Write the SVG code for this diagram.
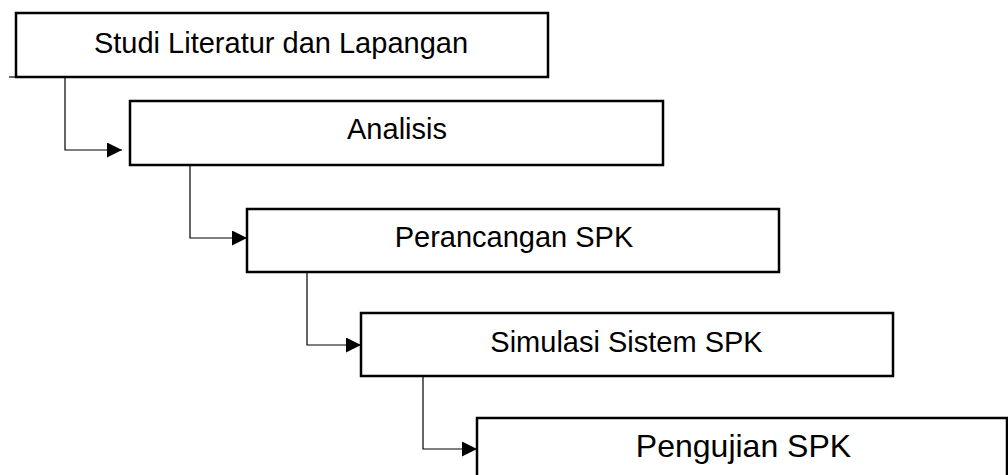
<svg xmlns="http://www.w3.org/2000/svg" width="1008" height="475" viewBox="0 0 1008 475">
<style>
.box{fill:#fff;stroke:#000;stroke-width:2.5}
.lbl{font-family:"Liberation Sans",Arial,sans-serif;font-size:29px;fill:#000;text-anchor:middle}
.con{fill:none;stroke:#000;stroke-width:1.2}
</style>
<defs>
<marker id="arr" viewBox="0 0 15 15" refX="15" refY="7.5" markerWidth="15" markerHeight="15" markerUnits="userSpaceOnUse" orient="auto">
<path d="M0,0 L15,7.5 L0,15 z" fill="#000"/>
</marker>
</defs>
<rect width="1008" height="475" fill="#fff"/>
<g id="connectors">
<path class="con" d="M9,77 H16"/>
<path class="con" d="M65,77 V150 H122" marker-end="url(#arr)"/>
<path class="con" d="M190,165 V238 H247" marker-end="url(#arr)"/>
<path class="con" d="M307,272 V345 H361" marker-end="url(#arr)"/>
<path class="con" d="M423,376 V449 H477" marker-end="url(#arr)"/>
</g>
<g id="node1">
<rect class="box" x="16" y="13" width="532" height="64"/>
<text class="lbl" x="281" y="53">Studi Literatur dan Lapangan</text>
</g>
<g id="node2">
<rect class="box" x="130" y="101" width="533" height="64"/>
<text class="lbl" x="397" y="139">Analisis</text>
</g>
<g id="node3">
<rect class="box" x="247" y="209" width="532" height="63"/>
<text class="lbl" x="514" y="247">Perancangan SPK</text>
</g>
<g id="node4">
<rect class="box" x="361" y="313" width="532" height="63"/>
<text class="lbl" x="626.5" y="352">Simulasi Sistem SPK</text>
</g>
<g id="node5">
<rect class="box" x="477" y="418" width="530" height="70"/>
<text class="lbl" x="743.5" y="457" style="font-size:32px">Pengujian SPK</text>
</g>
</svg>
